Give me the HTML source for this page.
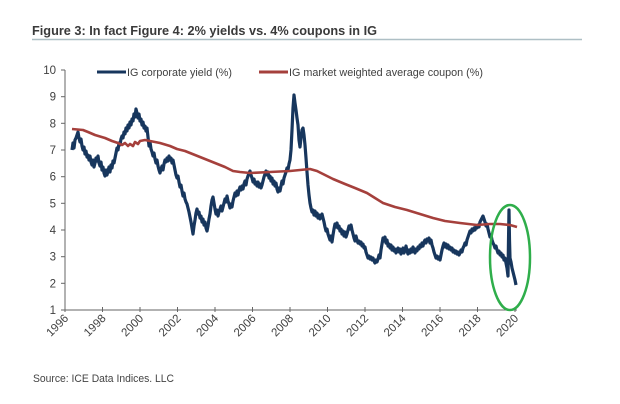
<!DOCTYPE html>
<html><head><meta charset="utf-8"><style>
html,body{margin:0;padding:0;background:#fff;}
svg{display:block;}
text{font-family:"Liberation Sans",Arial,sans-serif;}
</style></head><body>
<svg width="620" height="404" viewBox="0 0 620 404" xmlns="http://www.w3.org/2000/svg">
<rect width="620" height="404" fill="#fff"/>
<text x="32" y="35" font-size="12.5" font-weight="bold" fill="#3a3a3a" textLength="345" lengthAdjust="spacingAndGlyphs">Figure 3: In fact Figure 4: 2% yields vs. 4% coupons in IG</text>
<line x1="32" y1="39.5" x2="582" y2="39.5" stroke="#aebfc5" stroke-width="1.5"/>

<!-- legend -->
<line x1="97" y1="72" x2="126" y2="72" stroke="#17365d" stroke-width="3"/>
<text x="127" y="76" font-size="11" fill="#404040" textLength="105" lengthAdjust="spacingAndGlyphs">IG corporate yield (%)</text>
<line x1="259" y1="72" x2="288" y2="72" stroke="#a5403c" stroke-width="3"/>
<text x="289" y="76" font-size="11" fill="#404040" textLength="194" lengthAdjust="spacingAndGlyphs">IG market weighted average coupon (%)</text>

<!-- axes -->
<g stroke="#666" stroke-width="1" fill="none">
<line x1="65" y1="70" x2="65" y2="310"/>
<line x1="65" y1="310" x2="517" y2="310"/>
<line x1="61" y1="70" x2="65" y2="70"/>
<line x1="61" y1="96.7" x2="65" y2="96.7"/>
<line x1="61" y1="123.3" x2="65" y2="123.3"/>
<line x1="61" y1="150" x2="65" y2="150"/>
<line x1="61" y1="176.7" x2="65" y2="176.7"/>
<line x1="61" y1="203.3" x2="65" y2="203.3"/>
<line x1="61" y1="230" x2="65" y2="230"/>
<line x1="61" y1="256.7" x2="65" y2="256.7"/>
<line x1="61" y1="283.3" x2="65" y2="283.3"/>
<line x1="61" y1="310" x2="65" y2="310"/>
<line x1="65" y1="307" x2="65" y2="312"/>
<line x1="102.5" y1="307" x2="102.5" y2="312"/>
<line x1="140" y1="307" x2="140" y2="312"/>
<line x1="177.5" y1="307" x2="177.5" y2="312"/>
<line x1="215" y1="307" x2="215" y2="312"/>
<line x1="252.5" y1="307" x2="252.5" y2="312"/>
<line x1="290" y1="307" x2="290" y2="312"/>
<line x1="327.5" y1="307" x2="327.5" y2="312"/>
<line x1="365" y1="307" x2="365" y2="312"/>
<line x1="402.5" y1="307" x2="402.5" y2="312"/>
<line x1="440" y1="307" x2="440" y2="312"/>
<line x1="477.5" y1="307" x2="477.5" y2="312"/>
<line x1="515" y1="307" x2="515" y2="312"/>
</g>
<g font-size="11.5" fill="#404040" text-anchor="end">
<text x="56" y="74">10</text>
<text x="56" y="100.7">9</text>
<text x="56" y="127.3">8</text>
<text x="56" y="154">7</text>
<text x="56" y="180.7">6</text>
<text x="56" y="207.3">5</text>
<text x="56" y="234">4</text>
<text x="56" y="260.7">3</text>
<text x="56" y="287.3">2</text>
<text x="56" y="314">1</text>
</g>
<g font-size="11.5" fill="#404040" text-anchor="end">
<text transform="translate(69,319) rotate(-45)">1996</text>
<text transform="translate(106.5,319) rotate(-45)">1998</text>
<text transform="translate(144,319) rotate(-45)">2000</text>
<text transform="translate(181.5,319) rotate(-45)">2002</text>
<text transform="translate(219,319) rotate(-45)">2004</text>
<text transform="translate(256.5,319) rotate(-45)">2006</text>
<text transform="translate(294,319) rotate(-45)">2008</text>
<text transform="translate(331.5,319) rotate(-45)">2010</text>
<text transform="translate(369,319) rotate(-45)">2012</text>
<text transform="translate(406.5,319) rotate(-45)">2014</text>
<text transform="translate(444,319) rotate(-45)">2016</text>
<text transform="translate(481.5,319) rotate(-45)">2018</text>
<text transform="translate(519,319) rotate(-45)">2020</text>
</g>

<!-- navy series -->
<polyline fill="none" stroke="#17365d" stroke-width="3.2" stroke-linejoin="round" points="72,150 73,143 74,148 75,140 76,138 77,135 78,132 79,138 80,142 81,139 82,146 83,150 84,147 85,154 86,151 87,157 88,155 89,160 90,156 91,162 92,165 93,160 94,167 95,163 96,158 97,161 98,156 99,163 100,166 101,162 102,170 103,167 104,173 105,176 106,170 107,175 108,171 109,167 110,172 111,165 112,168 113,161 114,163 115,158 116,153 117,148 118,150 119,143 120,145 121,139 122,136 123,138 124,132 125,134 126,128 127,131 128,125 129,128 130,122 131,125 132,119 133,121 134,114 135,117 136,109 137,113 138,118 139,114 140,121 141,119 142,125 143,122 144,128 145,126 146,131 147,128 148,137 149,146 150,142 151,149 152,152 153,156 154,153 155,159 156,163 157,160 158,166 159,170 160,173 161,169 162,166 163,170 164,164 165,160 166,162 167,158 168,161 169,156 170,160 171,158 172,163 173,160 174,165 175,170 176,175 177,178 178,176 179,182 180,187 181,185 182,191 183,196 184,193 185,199 186,202 187,204 188,208 189,212 190,217 191,222 192,228 193,234 194,226 195,220 196,213 197,209 198,214 199,212 200,218 201,216 202,222 203,219 204,225 205,222 206,228 207,231 208,226 209,219 210,214 211,206 212,200 213,197 214,203 215,209 216,214 217,210 218,216 219,212 220,209 221,206 222,211 223,207 224,203 225,199 226,202 227,196 228,201 229,204 230,208 231,204 232,207 233,201 234,197 235,193 236,196 237,191 238,195 239,190 240,187 241,190 242,186 243,189 244,184 245,181 246,185 247,179 248,176 249,173 250,171 251,175 252,178 253,182 254,179 255,184 256,182 257,186 258,182 259,187 260,184 261,188 262,185 263,181 264,177 265,174 266,171 267,175 268,172 269,178 270,176 271,181 272,178 273,184 274,181 275,186 276,183 277,189 278,192 279,188 280,191 281,186 282,181 283,184 284,178 285,175 286,172 287,168 288,170 289,164 290,160 291,150 292,130 293,108 294,95 295,103 296,110 297,118 298,125 299,140 300,147 301,138 302,130 303,128 304,135 305,145 306,158 307,172 308,185 309,195 310,203 311,208 312,212 313,210 314,215 315,211 316,216 317,213 318,218 319,215 320,219 321,216 322,214 323,218 324,222 325,227 326,231 327,229 328,234 329,237 330,240 331,236 332,242 333,235 334,229 335,224 336,227 337,223 338,228 339,226 340,231 341,229 342,234 343,231 344,236 345,232 346,237 347,234 348,230 349,226 350,229 351,225 352,230 353,234 354,238 355,241 356,236 357,240 358,243 359,241 360,244 361,242 362,246 363,244 364,248 365,247 366,252 367,255 368,258 369,256 370,259 371,257 372,260 373,258 374,261 375,263 376,260 377,262 378,259 379,255 380,258 381,250 382,244 383,238 384,241 385,237 386,243 387,240 388,246 389,244 390,248 391,245 392,250 393,247 394,251 395,249 396,253 397,250 398,248 399,252 400,249 401,254 402,251 403,248 404,253 405,250 406,246 407,251 408,254 409,250 410,253 411,249 412,252 413,247 414,250 415,253 416,249 417,251 418,247 419,249 420,245 421,247 422,243 423,246 424,242 425,240 426,243 427,239 428,241 429,238 430,243 431,240 432,245 433,248 434,252 435,255 436,258 437,256 438,259 439,257 440,260 441,255 442,250 443,246 444,243 445,247 446,244 447,248 448,245 449,249 450,247 451,250 452,248 453,252 454,250 455,253 456,251 457,254 458,252 459,255 460,253 461,250 462,252 463,248 464,246 465,243 466,245 467,240 468,237 469,234 470,231 471,233 472,229 473,231 474,228 475,230 476,226 477,228 478,225 479,227 480,222 481,220 482,218 483,216 484,219 485,222 486,226 487,224 488,229 489,233 490,237 491,235 492,240 493,243 494,245 495,248 496,246 497,250 498,253 499,251 500,255 501,253 502,257 503,255 504,260 505,258 506,263 507,268 508,276 508.5,240 509,210 509.5,240 510,258 511,262 512,268 513,272 514,276 515,280 516,285"/>

<!-- red series -->
<polyline fill="none" stroke="#a5403c" stroke-width="2.6" stroke-linejoin="round" points="72,129 83,130 88,132 95,135 105,138 112,141 118,143 122,145 125,143 128,146 130,144 133,146 135,142 138,144 140,141 145,140 150,141 160,143 170,146 177,149 185,151 195,155 205,159 215,163 225,167 233,171 240,172 250,173 270,172 290,171 300,170 310,169 317,171 325,175 333,179 345,184 355,188 367,193 375,198 383,203 395,207 407,210 420,214 433,218 445,221 460,223 477,225 490,224 500,224 510,225 517,227"/>

<!-- green ellipse -->
<ellipse cx="510" cy="257.5" rx="20" ry="52.5" fill="none" stroke="#2fae4b" stroke-width="2.5"/>

<text x="33" y="382" font-size="11" fill="#444" textLength="141" lengthAdjust="spacingAndGlyphs">Source: ICE Data Indices. LLC</text>
</svg>
</body></html>
